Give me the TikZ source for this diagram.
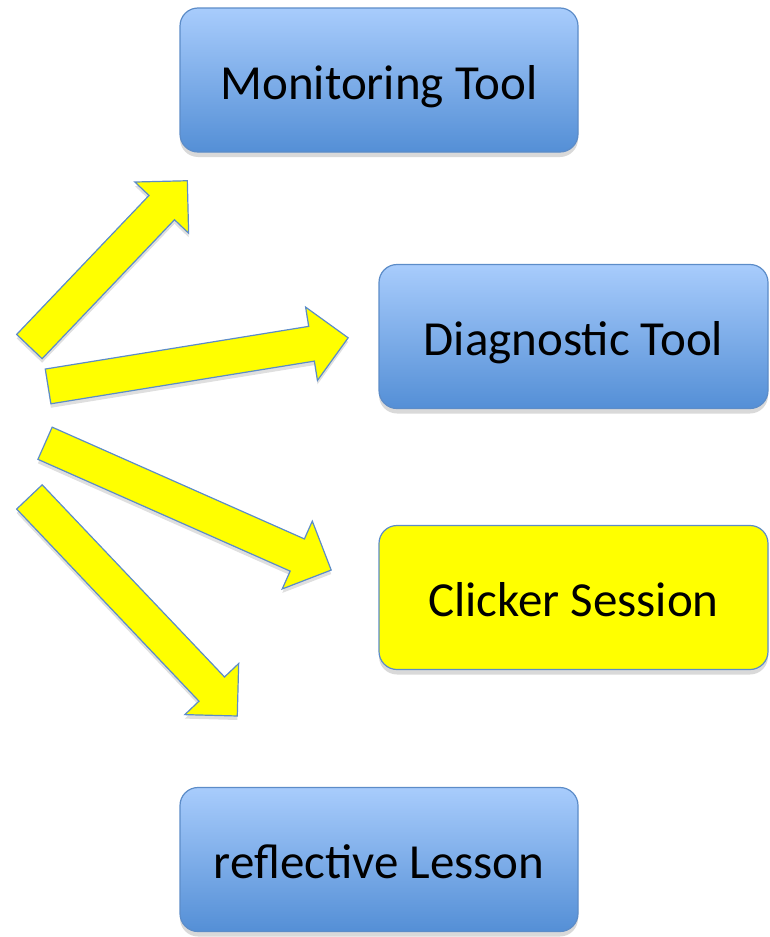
\documentclass[tikz,border=0pt]{standalone}
\usepackage{fontspec}
\setmainfont{Carlito}
\usetikzlibrary{shapes.arrows, shadows}

\begin{document}
\begin{tikzpicture}[
    x=0.5pt, y=-0.5pt,          % one unit = one pixel of the layout
    font=\fontsize{24.5}{30}\selectfont,
    toolbox/.style={
        draw=colorEdge,
        line width=0.6pt,
        rounded corners=9pt,
        align=center,
        text height=21pt,
        text depth=2pt,
        minimum width=199pt,
        minimum height=72pt,
        top color=colorTop,
        bottom color=colorBottom,
        drop shadow={shadow xshift=0pt, shadow yshift=-2.5pt, opacity=0.3}
    },
    hotbox/.style={
        toolbox,
        top color=colorYellow,
        bottom color=colorYellow
    },
    bigarrow/.style={
        single arrow,
        draw=colorEdge,
        fill=colorYellow,
        line width=0.6pt,
        inner xsep=0pt,
        inner ysep=8.5pt,       % half the shaft width
        single arrow head extend=9.75pt,
        anchor=tail,
        drop shadow={shadow xshift=0pt, shadow yshift=-2pt, opacity=0.25}
    }
]

%--- Define colors ---
\definecolor{colorTop}{RGB}{168,204,252}      % Light blue
\definecolor{colorBottom}{RGB}{84,143,214}    % Darker blue
\definecolor{colorEdge}{RGB}{92,140,200}      % Outline blue
\definecolor{colorYellow}{RGB}{255,255,0}     % Yellow

\useasboundingbox (0,0) rectangle (770,937);

%------------------------------------
% BOXES
%------------------------------------
\node[toolbox, minimum width=199pt] (mon_tool) at (379,80) {Monitoring Tool};
\node[toolbox, minimum width=194.5pt] (diag_tool) at (573.5,336.5) {Diagnostic Tool};
\node[hotbox, minimum width=194.5pt] (clicker) at (573.5,597.5) {Clicker Session};
\node[toolbox, minimum width=199pt] (reflect_lesson) at (379,859.5) {reflective Lesson};

%------------------------------------
% BLOCK ARROWS (fanning out)
%------------------------------------
\node[bigarrow, minimum height=114.5pt, rotate=46.4] (arr_mon) at (29,347) {};
\node[bigarrow, minimum height=152pt, rotate=9.2] (arr_diag) at (47.5,386.5) {};
\node[bigarrow, minimum height=156.5pt, rotate=-23.9] (arr_clicker) at (44.5,443) {};
\node[bigarrow, minimum height=151pt, rotate=-46.5] (arr_reflect) at (29,496.5) {};

\end{tikzpicture}
\end{document}
